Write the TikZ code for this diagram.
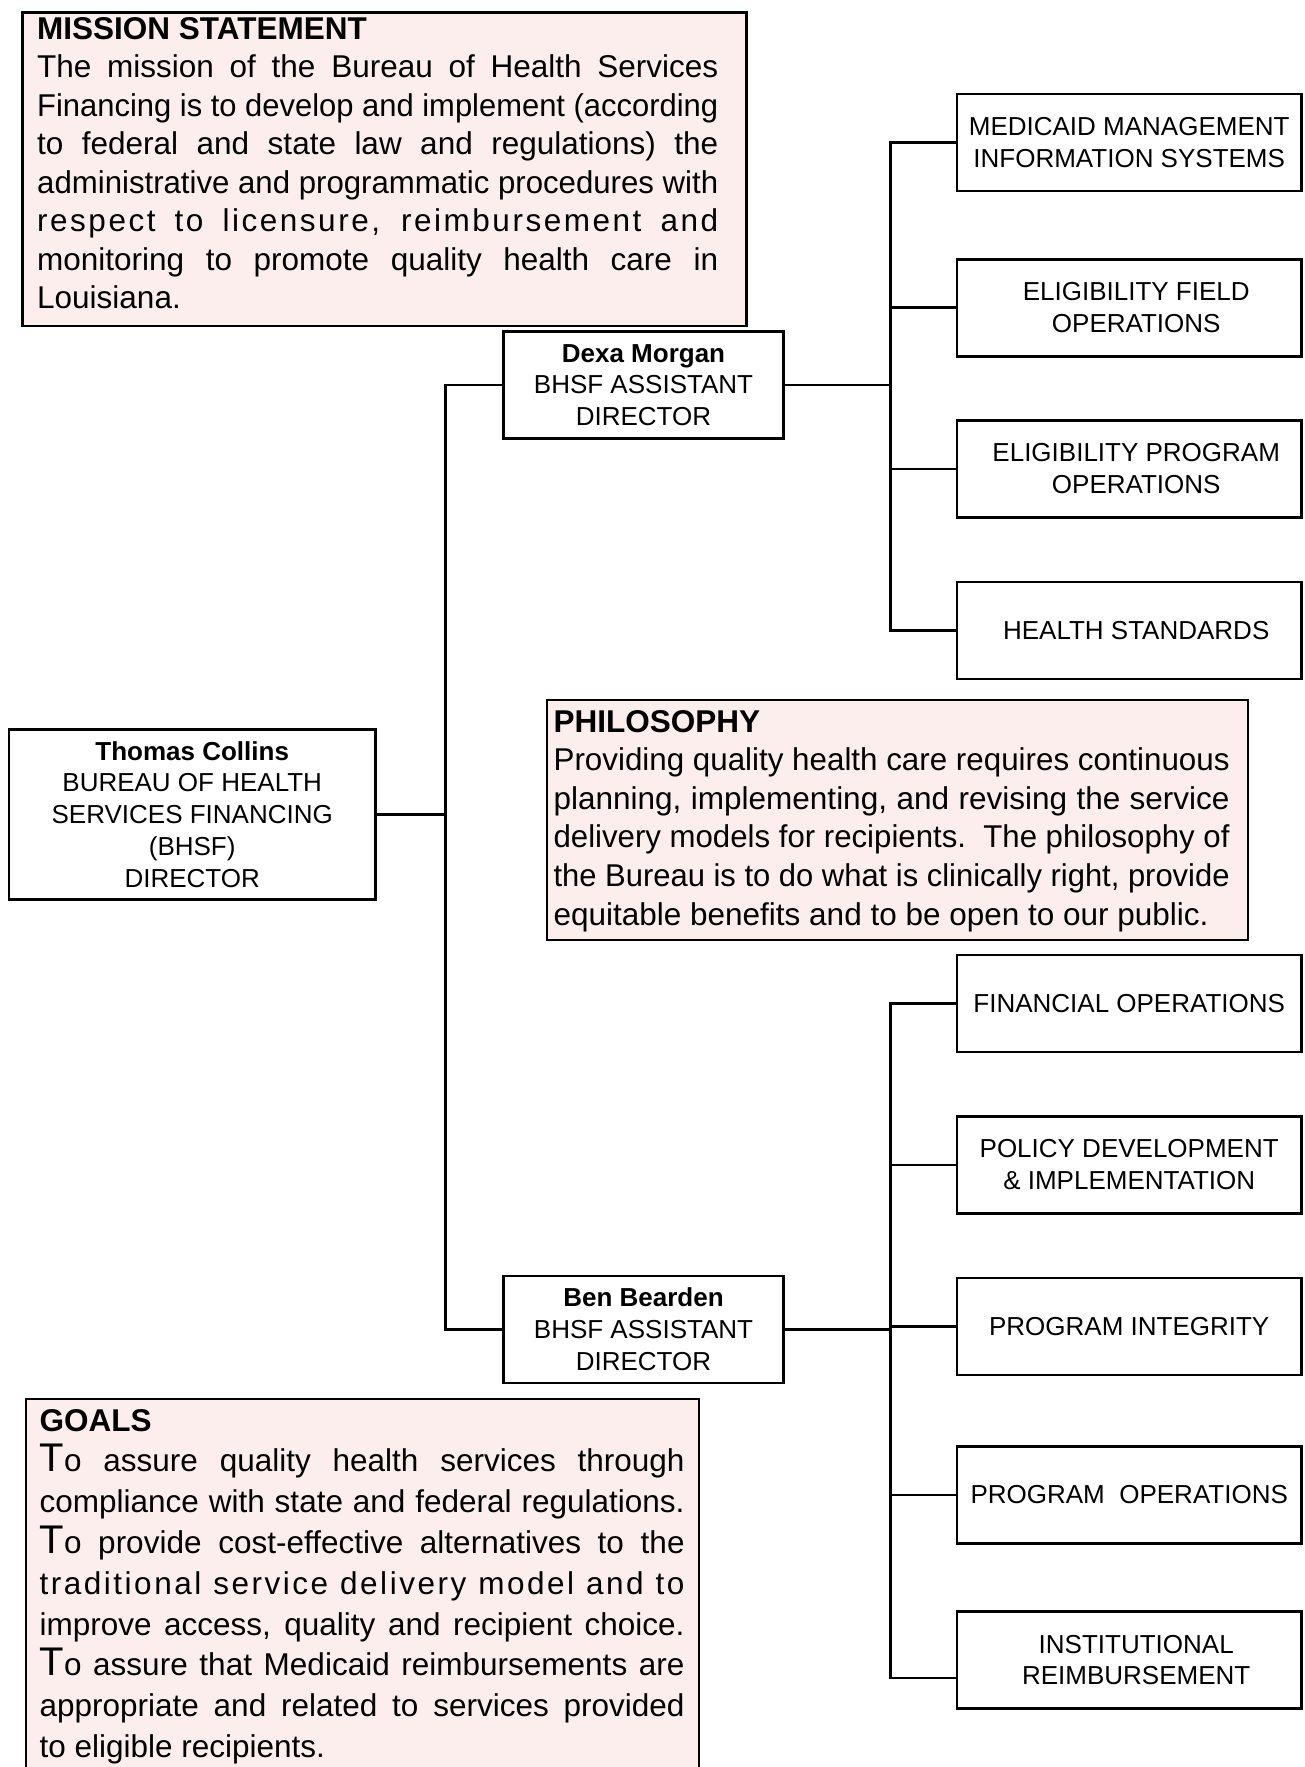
\documentclass[tikz,border=0pt]{standalone}
\usepackage{fontspec}
\setmainfont{Liberation Sans}
\newfontfamily\lsfont[LetterSpace=8]{Liberation Sans}
\usepackage{graphicx}
\definecolor{pinkfill}{RGB}{253,238,238}
\newlength\jlw
\newcommand\jl[2]{\settowidth{\jlw}{#2}\ifdim\jlw>#1\relax\resizebox{#1}{\height}{#2}\else\makebox[#1][s]{#2}\fi}
\newcommand\bodyfont[1]{\fontsize{31.5}{#1}\selectfont\spaceskip=0pt\xspaceskip=0pt\lineskiplimit=-100pt\relax}
\newcommand\orgfont{\fontsize{26}{31.7}\selectfont\spaceskip=\fontdimen2\font\xspaceskip=\fontdimen2\font\relax}
\newcommand\bigT{{\fontsize{40}{40}\selectfont T}}
\tikzset{
  txtframe/.style={draw=black, line width=2.6pt, fill=pinkfill, inner sep=0pt, anchor=north west},
  paratext/.style={anchor=base west, inner sep=0pt, align=left, font=\fontsize{31.5}{38.5}\selectfont},
  orgbox/.style={draw=black, line width=2.6pt, fill=white, inner sep=0pt, align=center, font=\fontsize{26}{31.7}\selectfont},
  leadbox/.style={orgbox, minimum width=279.5pt, minimum height=107pt, text width=270pt},
  unitbox/.style={orgbox, minimum width=344.7pt, minimum height=97pt, text width=340pt},
  conn/.style={line width=2.6pt},
}
\begin{document}
\begin{tikzpicture}[x=1pt,y=-1pt]
\useasboundingbox (0,0) rectangle (1304,1767);
\fill[white] (0,0) rectangle (1304,1767);

% Mission statement
\node[txtframe, minimum width=724pt, minimum height=313.5pt] (mission) at (21,11) {};
\node[paratext, text width=681pt] (missiontxt) at (37,39) {\bodyfont{38.5}%
\textbf{MISSION STATEMENT}\par
\jl{681pt}{The mission of the Bureau of Health Services}\par
\jl{681pt}{Financing is to develop and implement (according}\par
\jl{681pt}{to federal and state law and regulations) the}\par
\jl{681pt}{administrative and programmatic procedures with}\par
\jl{681pt}{\lsfont respect to licensure, reimbursement and}\par
\jl{681pt}{monitoring to promote quality health care in}\par
Louisiana.\par};

% Philosophy
\node[txtframe, minimum width=701pt, minimum height=240pt] (philo) at (545.5,698.7) {};
\node[paratext, text width=676pt] (philotxt) at (553.4,732) {\bodyfont{38.6}%
\textbf{PHILOSOPHY}\par
\jl{676pt}{Providing quality health care requires continuous}\par
\jl{676pt}{planning, implementing, and revising the service}\par
\jl{676pt}{delivery models for recipients.\ \ The philosophy of}\par
\jl{676pt}{the Bureau is to do what is clinically right, provide}\par
equitable benefits and to be open to our public.\par};

% Goals
\begin{scope}
\clip (0,0) rectangle (1304,1767);
\node[txtframe, minimum width=672.8pt, minimum height=420pt] (goals) at (24.8,1397.5) {};
\end{scope}
\node[paratext, text width=645pt] (goalstxt) at (39.4,1431) {\bodyfont{40.8}%
\textbf{GOALS}\par
\jl{645pt}{\bigT o assure quality health services through}\par
\jl{645pt}{compliance with state and federal regulations.}\par
\jl{645pt}{\bigT o provide cost-effective alternatives to the}\par
\jl{645pt}{\lsfont traditional service delivery model and to}\par
\jl{645pt}{improve access, quality and recipient choice.}\par
\jl{645pt}{\bigT o assure that Medicaid reimbursements are}\par
\jl{645pt}{appropriate and related to services provided}\par
to eligible recipients.\par};

% Org chart boxes
\node[orgbox, minimum width=366.3pt, minimum height=170pt, text width=355pt] (thomas) at (192.2,814.3)
  {\orgfont\textbf{Thomas Collins}\\BUREAU OF HEALTH\\SERVICES FINANCING\\(BHSF)\\DIRECTOR\par};
\node[leadbox] (dexa) at (643.5,384.9) {\orgfont\textbf{Dexa Morgan}\\BHSF ASSISTANT\\DIRECTOR\par};
\node[leadbox] (ben) at (643.5,1329.3) {\orgfont\textbf{Ben Bearden}\\BHSF ASSISTANT\\DIRECTOR\par};

\node[unitbox] (mmis) at (1129.2,142.5) {\orgfont MEDICAID MANAGEMENT\\INFORMATION SYSTEMS\par};
\node[unitbox] (elf) at (1129.2,307.7) {\orgfont\hspace*{14pt}ELIGIBILITY FIELD\\\hspace*{14pt}OPERATIONS\par};
\node[unitbox] (elp) at (1129.2,468.8) {\orgfont\hspace*{14pt}ELIGIBILITY PROGRAM\\\hspace*{14pt}OPERATIONS\par};
\node[unitbox] (hs) at (1129.2,630.6) {\orgfont\hspace*{14pt}HEALTH STANDARDS\par};

\node[unitbox] (fin) at (1129.2,1003.6) {\orgfont FINANCIAL OPERATIONS\par};
\node[unitbox] (pol) at (1129.2,1164.8) {\orgfont POLICY DEVELOPMENT\\\&{} IMPLEMENTATION\par};
\node[unitbox] (pint) at (1129.2,1326.5) {\orgfont PROGRAM INTEGRITY\par};
\node[unitbox] (pops) at (1129.2,1495) {\orgfont PROGRAM\ \ OPERATIONS\\[6pt]\par};
\node[unitbox] (inst) at (1129.2,1660) {\orgfont\hspace*{14pt}INSTITUTIONAL\\\hspace*{14pt}REIMBURSEMENT\par};

% Trunks
\coordinate (tr) at (445.2,0);
\coordinate (tr2) at (890.3,0);
\coordinate (instc) at ([yshift=-18pt]inst.west);

\draw[conn] (thomas.east) -- (thomas.east -| tr);
\draw[conn] (dexa.west) -- (dexa.west -| tr) -- (ben.west -| tr) -- (ben.west);

\draw[conn] (dexa.east) -- (dexa.east -| tr2);
\draw[conn] (mmis.west) -- (mmis.west -| tr2) -- (hs.west -| tr2) -- (hs.west);
\draw[conn] (elf.west) -- (elf.west -| tr2);
\draw[conn] (elp.west) -- (elp.west -| tr2);

\draw[conn] (ben.east) -- (ben.east -| tr2);
\draw[conn] (fin.west) -- (fin.west -| tr2) -- (instc -| tr2) -- (instc);
\draw[conn] (pol.west) -- (pol.west -| tr2);
\draw[conn] (pint.west) -- (pint.west -| tr2);
\draw[conn] (pops.west) -- (pops.west -| tr2);
\end{tikzpicture}
\end{document}
